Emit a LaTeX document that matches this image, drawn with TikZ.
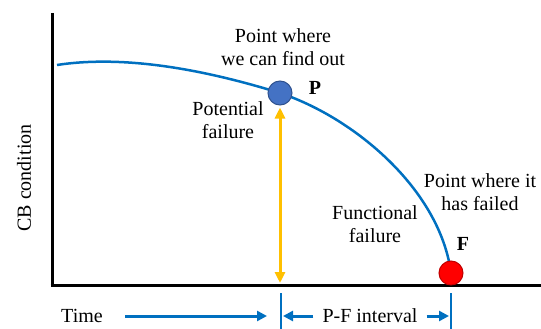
\documentclass[tikz,border=0pt]{standalone}
\usepackage{fontspec}
\setmainfont{LiberationSerif}[Extension=.ttf, UprightFont=*-Regular, BoldFont=*-Bold]
\usetikzlibrary{arrows.meta}
\definecolor{curveblue}{HTML}{0070C0}
\definecolor{pblue}{HTML}{4472C4}
\definecolor{pedge}{HTML}{2F528F}
\definecolor{fred}{HTML}{FF0000}
\definecolor{fedge}{HTML}{C00000}
\definecolor{pfyellow}{HTML}{FFC000}
\begin{document}
\begin{tikzpicture}[x=1pt,y=-1pt,
  txt/.style={align=center,font=\fontsize{20}{23}\selectfont},
  dot/.style={circle,minimum size=24pt,inner sep=0pt,line width=1pt},
  axis/.style={line width=3pt,black},
  blueline/.style={line width=2.5pt,curveblue},
  barrow/.style={line width=3pt,curveblue,-{Triangle[length=10pt,width=10pt]}}]
\useasboundingbox (0,0) rectangle (541,329);

\draw [axis] (52,13) -- (52,286.5);
\draw [axis] (50.5,285) -- (541,285);
\node [txt,rotate=90] (ylab) at (24,178) {CB condition};

\coordinate (start) at (57,65);
\coordinate (P) at (280,93);
\coordinate (F) at (451,273);
\draw [curveblue, line width=2.5pt] (start) .. controls (135,53) and (225,76) .. (P)
  .. controls (355,118) and (440,190) .. (F);
\node [dot, fill=pblue, draw=pedge] (pdot) at (P) {};
\node [dot, fill=fred, draw=fedge] (fdot) at (F) {};
\node [txt, font=\fontsize{20}{23}\selectfont\bfseries] (plab) at (315,88) {P};
\node [txt, font=\fontsize{20}{23}\selectfont\bfseries] (flab) at (463,244) {F};

% P-F drop
\coordinate (pbase) at (280,283);
\draw [pfyellow, line width=3pt, {Triangle[length=11pt,width=10pt]}-{Triangle[length=11pt,width=10pt]}]
  ([yshift=-2pt]pdot.south) -- (pbase);

\node [txt] (ptext) at (283,47) {Point where\\we can find out};
\node [txt] (potential) at (228,120) {Potential\\failure};
\node [txt] (ftext) at (480,192) {Point where it\\has failed};
\node [txt] (functional) at (375,224) {Functional\\failure};

% time line
\node [txt] (time) at (82,316) {Time};
\coordinate (tstart) at (125,316);
\coordinate (tend) at (267,316);
\draw [barrow] (tstart) -- (tend);
\coordinate (ptop) at (281,293);
\coordinate (pbot) at (281,329);
\coordinate (ftop) at (451,293);
\coordinate (fbot) at (451,329);
\draw [blueline] (ptop) -- (pbot);
\draw [blueline] (ftop) -- (fbot);
\node [txt, inner sep=9pt] (pf) at (370,316) {P-F interval};
\draw [barrow] (pf.west) -- (283,316);
\draw [barrow] (pf.east) -- (449,316);
\end{tikzpicture}
\end{document}
